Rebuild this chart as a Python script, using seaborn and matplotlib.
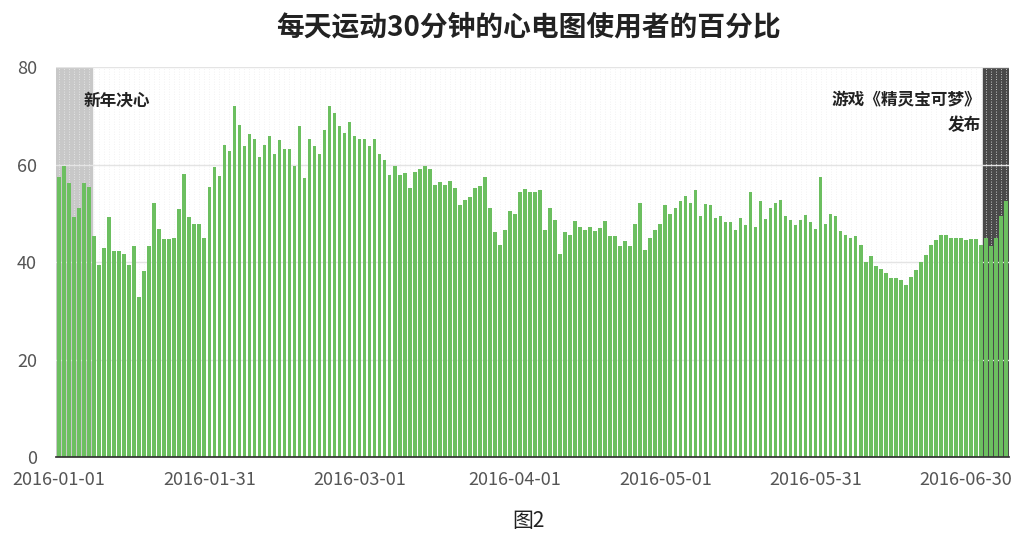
import matplotlib
matplotlib.use("Agg")
import matplotlib.pyplot as plt
import seaborn as sns
import pandas as pd
import numpy as np

part1 = [57.4,59.8,56.2,49.2,51.2,56.2,55.5,45.3,39.4,42.9,49.3,42.2,42.2,41.7,39.4,43.4,32.8,38.1,43.4,52.2,
         46.7,44.8,44.8,45.0,50.8,58.1,49.3,47.9,47.9,45.0]
part2 = [55.4,59.6,57.7,64.1,62.8,72.0,68.1,63.9,66.2,65.2,61.5,64.1,65.9,62.1,65.0,63.3,63.3,59.8,68.0,57.2,
         65.2,63.8,62.1,67.2,72.0,70.6,68.0,66.5,68.7,65.9,65.3,65.2,63.8]
part3 = [65.2,62.1,61.0,57.8,59.8,57.8,58.3,55.1,58.5,59.0,59.8,59.0,55.9,56.4,55.8,56.6,55.3,51.7,52.8,53.4,
         55.3,55.7,57.5,51.2,46.2,43.5,46.5,50.5,49.8,54.3,55.0]
part4 = [54.4,54.3,54.7,46.5,51.0,48.7,41.6,46.2,45.6,48.4,47.3,46.6,47.2,46.3,47.0,48.4,45.3,45.3,43.3,44.4,
         43.3,47.9,52.1,42.4,45.0,46.5,47.9,51.7,49.8,51.0,52.6]
part5 = [53.6,52.2,54.7,49.4,52.0,51.7,49.1,49.4,48.2,48.2,46.5,49.1,47.6,54.3,47.3,52.6,48.8,51.2,52.2,52.8,
         49.4,48.7,47.6,48.7,49.7,48.2,46.8,57.5,47.9,49.8,49.4]
part6 = [46.3,45.6,45.0,45.3,43.6,40.0,41.2,39.2,38.6,37.8,36.7,36.7,36.4,35.2,37.0,38.3,40.0,41.5,43.6,44.5,
         45.6,45.6,45.0,45.0,45.0,44.5,44.8,44.8,43.6,45.0,43.3,45.0,49.4,52.6]
values = part1 + part2 + part3 + part4 + part5 + part6
dates = pd.date_range("2016-01-01", periods=len(values), freq="D")
tick_labels = ["2016-01-01", "2016-01-31", "2016-03-01", "2016-04-01", "2016-05-01", "2016-05-31", "2016-06-30"]
title = "每天运动30分钟的心电图使用者的百分比"

df = pd.DataFrame({"date": dates.strftime("%Y-%m-%d"), "pct": values})

sns.set_theme(style="white")
plt.rcParams['font.family'] = ['Noto Sans CJK SC', 'DejaVu Sans']

fig = plt.figure(figsize=(10.27, 5.46), dpi=100)
ax = fig.add_axes([0.055, 0.163, 0.927, 0.714])
n = len(values)
ax.axvspan(-0.5, 6.5, color="#c8c8c8", zorder=0)
ax.axvspan(184.5, n - 0.5, color="#4a4a4a", zorder=0)
for i in range(n):
    ax.axvline(i, color="#eeeeee", lw=0.6, zorder=0.5, ls=(0, (1, 2)))
for y in [20, 40, 60, 80]:
    ax.axhline(y, color="#e4e4e4", lw=1, zorder=0.6)
sns.barplot(data=df, x="date", y="pct", color="#6cbf60", saturation=1, width=0.72,
            linewidth=0, ax=ax, zorder=2)
ax.set_xlim(-0.5, n - 0.5)
ax.set_ylim(0, 80)
ax.set_yticks([0, 20, 40, 60, 80])
tick_pos = [list(df["date"]).index(t) for t in tick_labels]
ax.set_xticks(tick_pos)
ax.set_xticklabels(tick_labels)
ax.tick_params(labelsize=13, colors="#555555", length=0)
ax.tick_params(axis="x", pad=10)
ax.tick_params(axis="y", pad=14)
ax.set_xlabel("")
ax.set_ylabel("")
for s in ["top", "right", "left"]:
    ax.spines[s].set_visible(False)
ax.spines["bottom"].set_color("#333333")
ax.text(5, 75, "新年决心", fontsize=12, fontweight="bold", color="#222222", va="top")
ax.text(184, 75, "游戏《精灵宝可梦》\n发布", fontsize=12, fontweight="bold", color="#222222",
        va="top", ha="right", linespacing=1.5)
fig.text(0.515, 0.95, title, ha="center", va="center", fontsize=20, fontweight="bold", color="#222222")
fig.text(0.515, 0.045, "图2", ha="center", va="center", fontsize=15, color="#222222")
fig.savefig("out.png", dpi=100)
